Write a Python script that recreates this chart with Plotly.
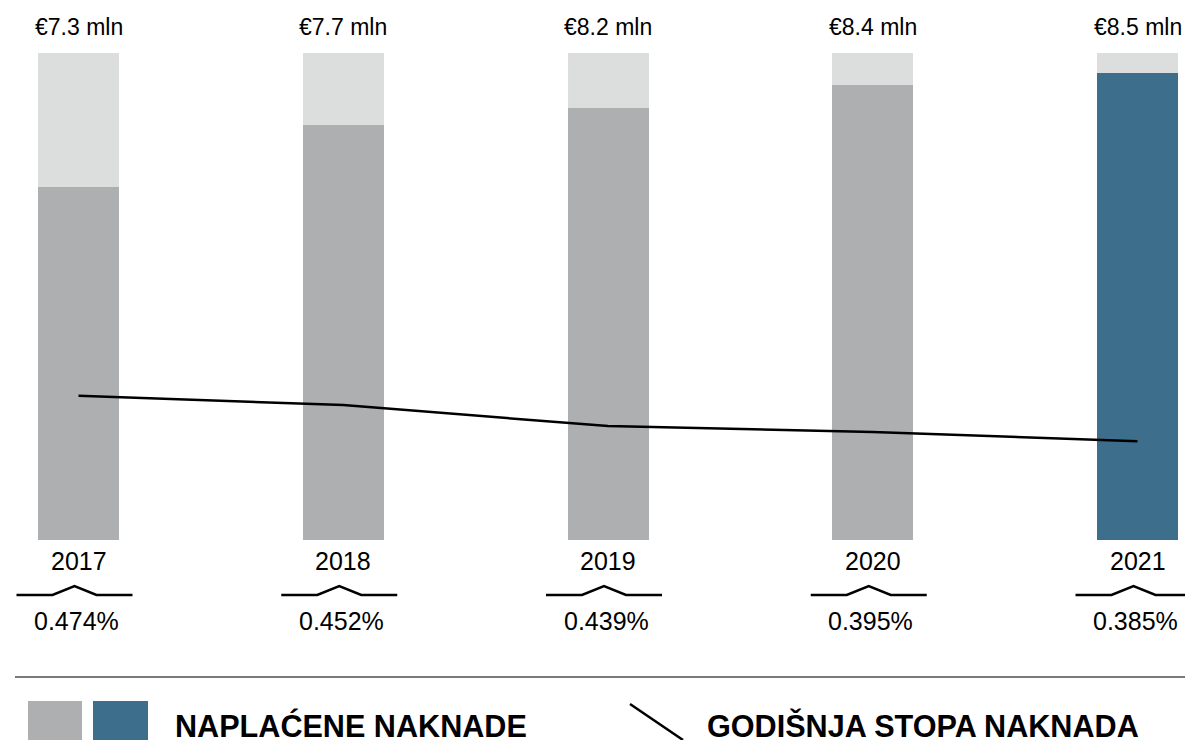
import plotly.graph_objects as go

# data
years = ["2017", "2018", "2019", "2020", "2021"]
fees_labels = ["€7.3 mln", "€7.7 mln", "€8.2 mln", "€8.4 mln", "€8.5 mln"]
rate_labels = ["0.474%", "0.452%", "0.439%", "0.395%", "0.385%"]
# bars are drawn as share of a full-height column (not to scale in the original)
fee_share = [0.725, 0.852, 0.887, 0.935, 0.959]
# annual fee rate line as drawn, same scale as the columns
rate_line = [0.296, 0.277, 0.234, 0.222, 0.203]

PAGE_OFF = 8                    # default body margin of the html page
W, H = 1193 - PAGE_OFF, 740 - PAGE_OFF
TOP, BOTTOM = 53, 540           # page pixel rows of plot area
X0, STEP = 78.5, 264.75         # page pixel centre of first bar, bar spacing
XMIN = -(X0 - PAGE_OFF) / STEP
XMAX = (W - (X0 - PAGE_OFF)) / STEP

GREY = "#AEAFB1"
LIGHT = "#DCDEDD"
BLUE = "#3D6E8C"
FONT = "Liberation Sans, Arial, sans-serif"


def px(x):
    return (x - PAGE_OFF) / W


def py(y):
    return (BOTTOM - y) / (BOTTOM - TOP)


idx = list(range(len(years)))
colors = [GREY] * (len(years) - 1) + [BLUE]

fig = go.Figure()
fig.add_trace(go.Bar(x=idx, y=fee_share, width=81 / STEP,
                     marker=dict(color=colors, line_width=0), hoverinfo="skip"))
fig.add_trace(go.Bar(x=idx, y=[1 - v for v in fee_share], width=81 / STEP,
                     marker=dict(color=LIGHT, line_width=0), hoverinfo="skip"))
fig.add_trace(go.Scatter(x=idx, y=rate_line, mode="lines",
                         line=dict(color="black", width=2.5), hoverinfo="skip"))

annotations = []
shapes = []
for i in idx:
    cx = X0 + i * STEP
    annotations.append(dict(x=px(cx), y=py(27), xref="paper", yref="paper",
                            text=fees_labels[i], showarrow=False, xanchor="center",
                            font=dict(size=23, color="black"), yanchor="middle"))
    annotations.append(dict(x=px(cx), y=py(561), xref="paper", yref="paper",
                            text=years[i], showarrow=False, xanchor="center",
                            font=dict(size=25, color="black"), yanchor="middle"))
    annotations.append(dict(x=px(cx - 2), y=py(621), xref="paper", yref="paper",
                            text=rate_labels[i], showarrow=False, xanchor="center",
                            font=dict(size=25, color="black"), yanchor="middle"))
    # small bracket between year and rate
    c = cx - 4
    path = "M {} {} L {} {} L {} {} L {} {} L {} {}".format(
        px(c - 58), py(595), px(c - 22), py(595), px(c), py(586),
        px(c + 22), py(595), px(min(c + 58, 1192)), py(595))
    shapes.append(dict(type="path", path=path, xref="paper", yref="paper",
                       line=dict(color="black", width=2.5)))

# separator
shapes.append(dict(type="line", xref="paper", yref="paper",
                   x0=px(15), x1=1, y0=py(677), y1=py(677),
                   line=dict(color="#7a7a7a", width=2)))
# legend swatches
shapes.append(dict(type="rect", xref="paper", yref="paper", x0=px(28), x1=px(82),
                   y0=py(701), y1=py(745), fillcolor=GREY, line_width=0))
shapes.append(dict(type="rect", xref="paper", yref="paper", x0=px(93), x1=px(148),
                   y0=py(701), y1=py(745), fillcolor=BLUE, line_width=0))
shapes.append(dict(type="line", xref="paper", yref="paper",
                   x0=px(630), x1=px(683), y0=py(704), y1=py(740),
                   line=dict(color="black", width=2.5)))
annotations.append(dict(x=px(173), y=py(725), xref="paper", yref="paper",
                        text="<b>NAPLAĆENE NAKNADE</b>", showarrow=False,
                        xanchor="left", yanchor="middle",
                        font=dict(size=30.6, color="black")))
annotations.append(dict(x=px(705), y=py(725), xref="paper", yref="paper",
                        text="<b>GODIŠNJA STOPA NAKNADA</b>", showarrow=False,
                        xanchor="left", yanchor="middle",
                        font=dict(size=30.6, color="black")))

fig.update_layout(
    width=W, height=H,
    margin=dict(l=0, r=0, t=TOP - PAGE_OFF, b=H - (BOTTOM - PAGE_OFF)),
    barmode="stack",
    showlegend=False,
    plot_bgcolor="white", paper_bgcolor="white",
    font=dict(family=FONT, color="black"),
    xaxis=dict(range=[XMIN, XMAX], visible=False, fixedrange=True),
    yaxis=dict(range=[0, 1], visible=False, fixedrange=True),
    annotations=annotations,
    shapes=shapes,
)

fig.write_html("out.html")
